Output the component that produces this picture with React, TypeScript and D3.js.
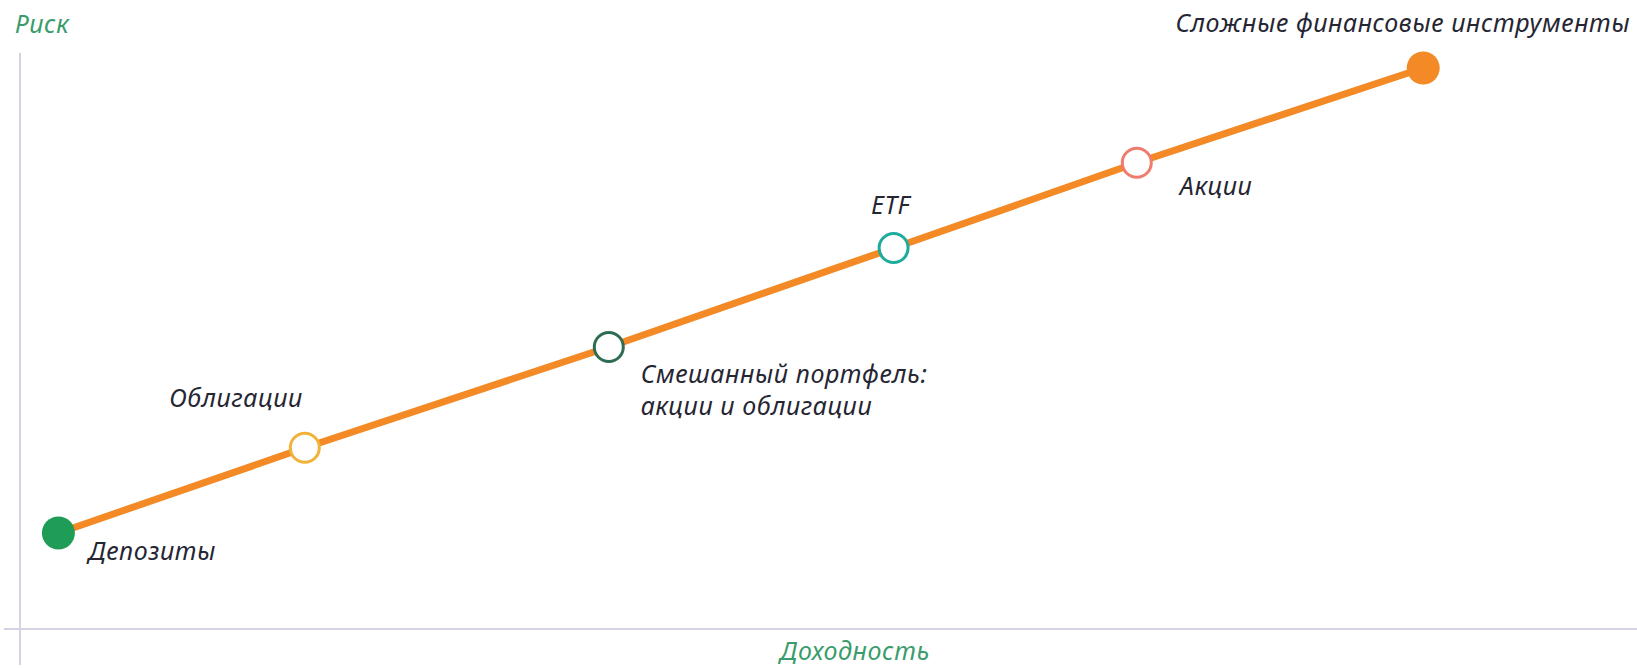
import { useMemo } from "react";
import * as d3 from "d3";

const WIDTH = 1637;
const HEIGHT = 668;

// instruments along the risk/return line
const names = [
  "Депозиты",
  "Облигации",
  "Смешанный портфель:\nакции и облигации",
  "ETF",
  "Акции",
  "Сложные финансовые инструменты",
];
const returns = [2.4, 17.8, 36.8, 54.6, 69.8, 87.7];
const risks = [16, 30.2, 47, 63.5, 77.7, 93.5];
const pointColors = ["#1f9d57", "#f1b23a", "#2f6d52", "#1eab9c", "#ef7c6c", "#f38a26"];
const filled = [true, false, false, false, false, true];

const xTitle = "Доходность";
const yTitle = "Риск";

// label placement relative to each point
const labelLayout = [
  { dx: 30, dy: 27, anchor: "start" },
  { dx: -2, dy: -41, anchor: "end" },
  { dx: 32, dy: 36, anchor: "start" },
  { dx: -3, dy: -34, anchor: "middle" },
  { dx: 43, dy: 32, anchor: "start" },
  { dx: 207, dy: -36, anchor: "end" },
];

const FONT = "'Noto Sans', 'Open Sans', sans-serif";
const LINE_COLOR = "#f38a26";
const AXIS_COLOR = "#d3d3e3";
const TITLE_COLOR = "#3a9c6c";
const TEXT_COLOR = "#262633";

export default function App() {
  const xScale = useMemo(() => d3.scaleLinear().domain([0, 100]).range([20, 1620]), []);
  const yScale = useMemo(() => d3.scaleLinear().domain([0, 100]).range([629, 29]), []);

  const points = returns.map((r, i) => ({ x: r, y: risks[i], i }));
  const line = d3
    .line<{ x: number; y: number }>()
    .x((d) => xScale(d.x))
    .y((d) => yScale(d.y));

  const x0 = xScale(0);
  const y0 = yScale(0);

  return (
    <svg
      width={WIDTH}
      height={HEIGHT}
      style={{ position: "fixed", left: 0, top: 0, background: "#fff", display: "block" }}
      fontFamily={FONT}
      fontStyle="italic"
      letterSpacing={0.6}
    >
      {/* axes */}
      <line x1={x0} x2={x0} y1={53} y2={665} stroke={AXIS_COLOR} strokeWidth={2} />
      <line x1={4} x2={WIDTH} y1={y0} y2={y0} stroke={AXIS_COLOR} strokeWidth={2} />
      <text x={15} y={33} fill={TITLE_COLOR} fontSize={25}>
        {yTitle}
      </text>
      <text x={855} y={660} fill={TITLE_COLOR} fontSize={25} textAnchor="middle">
        {xTitle}
      </text>

      <path d={line(points) ?? ""} fill="none" stroke={LINE_COLOR} strokeWidth={7} strokeLinecap="round" />

      {points.map((p) => {
        const cx = xScale(p.x);
        const cy = yScale(p.y);
        return filled[p.i] ? (
          <circle key={p.i} cx={cx} cy={cy} r={16.5} fill={pointColors[p.i]} />
        ) : (
          <circle key={p.i} cx={cx} cy={cy} r={14.5} fill="#fff" stroke={pointColors[p.i]} strokeWidth={3} />
        );
      })}

      {points.map((p) => {
        const lay = labelLayout[p.i];
        const cx = xScale(p.x) + lay.dx;
        const cy = yScale(p.y) + lay.dy;
        const lines = names[p.i].split("\n");
        return (
          <text key={p.i} x={cx} y={cy} fill={TEXT_COLOR} fontSize={25} textAnchor={lay.anchor}>
            {lines.map((t, k) => (
              <tspan key={k} x={cx} dy={k === 0 ? 0 : 32}>
                {t}
              </tspan>
            ))}
          </text>
        );
      })}
    </svg>
  );
}
